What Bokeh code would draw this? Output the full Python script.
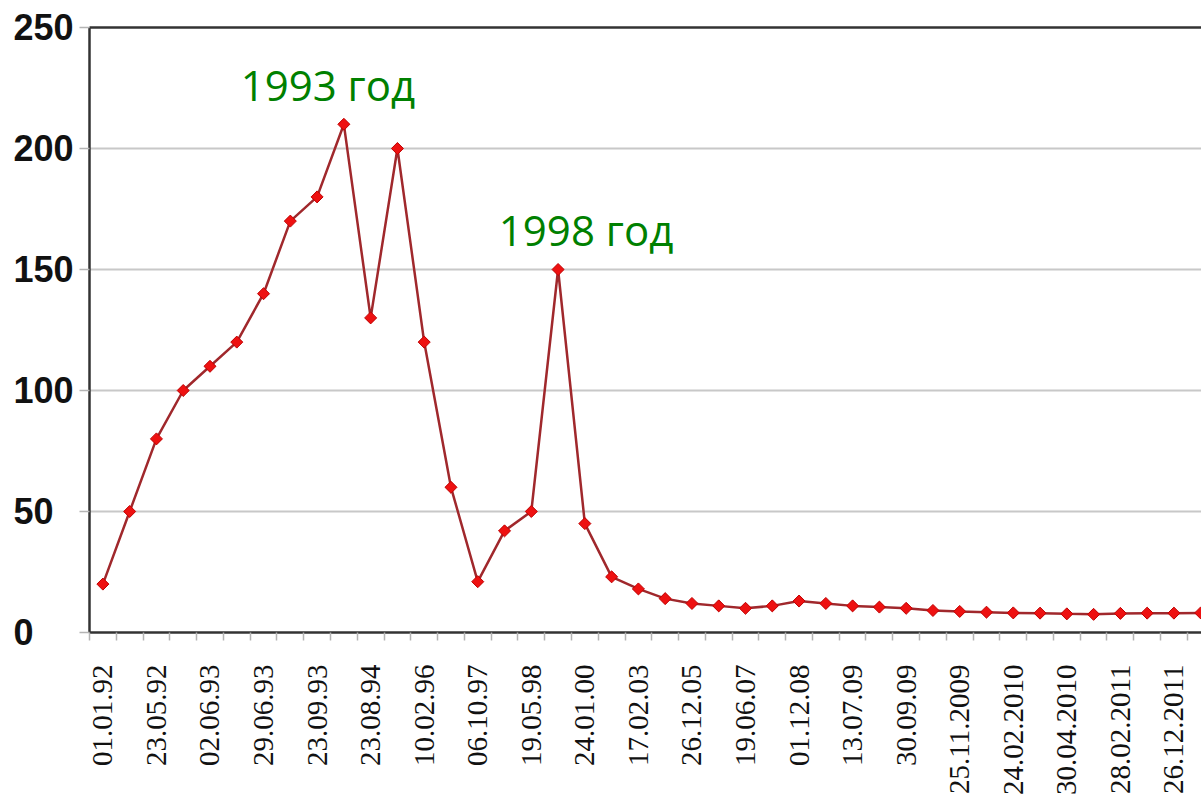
import numpy as np
from bokeh.plotting import figure
from bokeh.models import Range1d, FixedTicker, LinearAxis
from bokeh.core.properties import value
from bokeh.embed import file_html
from bokeh.resources import INLINE

# ---------------- data ----------------
date_labels = ["01.01.92", "23.05.92", "02.06.93", "29.06.93", "23.09.93", "23.08.94",
               "10.02.96", "06.10.97", "19.05.98", "24.01.00", "17.02.03", "26.12.05",
               "19.06.07", "01.12.08", "13.07.09", "30.09.09", "25.11.2009", "24.02.2010",
               "30.04.2010", "28.02.2011", "26.12.2011"]
values = [20, 50, 80, 100, 110, 120, 140, 170, 180, 210, 130, 200, 120, 60, 21, 42, 50,
          150, 45, 23, 18, 14, 12, 11, 10, 11, 13, 12, 11, 10.5, 10, 9.1, 8.7, 8.4, 8.1,
          8.0, 7.7, 7.5, 7.9, 8.0, 8.0, 8.1]
y_ticks = [0, 50, 100, 150, 200, 250]
ann_texts = ["1993 год", "1998 год"]
ann_index = [9, 17]

# ---------------- layout constants ----------------
TOP = 27
FRAME_H = 605
BOTTOM = 164
LEFT = 89
FRAME_W = 1112
YMAX = 250
X0 = -0.5
X1 = 41.03

x = list(range(len(values)))

p = figure(frame_width=FRAME_W, frame_height=FRAME_H, output_backend="svg",
           toolbar_location=None,
           x_range=Range1d(X0, X1), y_range=Range1d(0, YMAX),
           min_border_left=LEFT, min_border_right=0,
           min_border_top=TOP, min_border_bottom=BOTTOM)
p.outline_line_color = None
p.background_fill_color = "white"
p.border_fill_color = "white"

# x axis
xa = p.xaxis[0]
xa.ticker = FixedTicker(ticks=[2 * i for i in range(len(date_labels))],
                        minor_ticks=[i - 0.5 for i in range(len(values) + 1)])
xa.major_label_overrides = {2 * i: lab for i, lab in enumerate(date_labels)}
xa.major_label_orientation = np.pi / 2
xa.major_tick_out = 0
xa.major_tick_in = 0
xa.minor_tick_out = 8
xa.minor_tick_in = 0
xa.minor_tick_line_color = "#b4b4b4"
xa.minor_tick_line_width = 1.5
xa.axis_line_color = "#333333"
xa.axis_line_width = 2.5
xa.major_label_standoff = 24
xa.major_label_text_font = "Liberation Sans Narrow"
xa.major_label_text_font_size = "29px"
xa.major_label_text_color = "#111111"

# y axis: labels left-aligned in a column as wide as "250"
# (padded on the right with figure spaces, which are digit-wide)
ya = p.yaxis[0]
ya.ticker = FixedTicker(ticks=y_ticks)
widest = max(len(str(t)) for t in y_ticks)
ya.major_label_overrides = {t: str(t) + "\u2007" * (widest - len(str(t))) for t in y_ticks}
ya.major_label_text_font = "Liberation Sans"
ya.major_label_text_font_style = "bold"
ya.major_label_text_font_size = "36px"
ya.major_label_text_color = "#111111"
ya.major_label_standoff = 6
ya.major_tick_out = 10
ya.major_tick_in = 0
ya.major_tick_line_color = "#b4b4b4"
ya.major_tick_line_width = 1.5
ya.minor_tick_out = 0
ya.minor_tick_in = 0
ya.axis_line_color = "#333333"
ya.axis_line_width = 2.5

# top border as an axis
top = LinearAxis(ticker=FixedTicker(ticks=[]), major_tick_out=0, major_tick_in=0,
                 minor_tick_out=0, minor_tick_in=0, major_label_standoff=0,
                 axis_line_color="#333333", axis_line_width=2.5)
p.add_layout(top, "above")

p.xgrid.grid_line_color = None
p.ygrid.ticker = FixedTicker(ticks=y_ticks)
p.ygrid.grid_line_color = "#c8c8c8"
p.ygrid.grid_line_width = 2

p.line(x, values, line_color="#a0282c", line_width=2.5)
p.scatter(x, values, marker="square", angle=np.pi / 4, size=8.5,
          fill_color="#ee1111", line_color="#c00000", line_width=1)

ann_dx = [-16, 28]
ann_dy = [-40, -40]
for t, i, dx, dy in zip(ann_texts, ann_index, ann_dx, ann_dy):
    p.text(x=[i], y=[values[i]], text=[t], text_font=value("Open Sans"),
           text_font_size="42px", text_color="#008000", text_align="center",
           text_baseline="alphabetic", x_offset=dx, y_offset=dy)

open("out.html", "w").write(file_html(p, INLINE))
